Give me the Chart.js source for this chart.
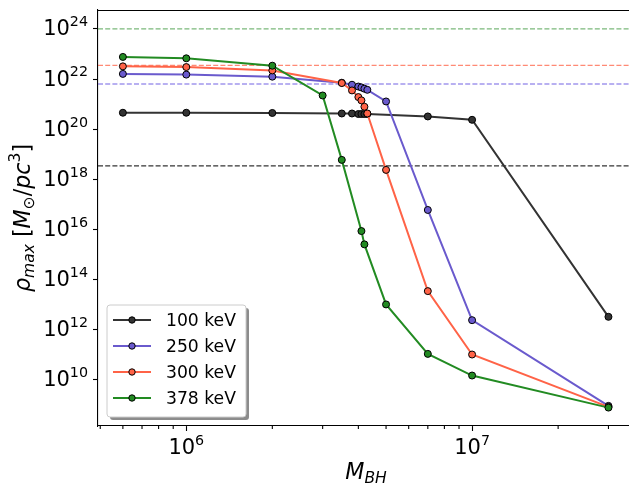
<!DOCTYPE html>
<html>
<head>
<meta charset="utf-8">
<script src="https://cdn.jsdelivr.net/npm/chart.js@4.4.0/dist/chart.umd.min.js"></script>
<style>
  html, body { margin: 0; padding: 0; background: #fff; }
  canvas { display: block; }
</style>
</head>
<body>
<canvas id="rhoChart" width="629" height="483"></canvas>
<script>
// black hole masses used by each run
const massA = [6e5, 1e6, 2e6, 3.5e6, 3.8e6, 4.0e6, 4.1e6, 4.2e6, 4.3e6, 7e6, 1e7, 3e7];
const massB = [6e5, 1e6, 2e6, 3.5e6, 3.8e6, 4.0e6, 4.1e6, 4.2e6, 4.3e6, 5e6, 7e6, 1e7, 3e7];
const massC = [6e5, 1e6, 2e6, 3e6, 3.5e6, 4.1e6, 4.2e6, 5e6, 7e6, 1e7, 3e7];

// max density per run
const rho100 = [4.5e20, 4.5e20, 4.4e20, 4.2e20, 4.2e20, 4.0e20, 4.0e20, 4.0e20, 4.0e20, 3.2e20, 2.35e20, 3.2e12];
const rho250 = [1.6e22, 1.5e22, 1.24e22, 7.1e21, 5.9e21, 5.0e21, 4.6e21, 4.1e21, 3.7e21, 1.27e21, 5.9e16, 2.35e12, 8.9e8];
const rho300 = [3.2e22, 3.0e22, 2.2e22, 6.9e21, 3.5e21, 1.9e21, 1.4e21, 7.8e20, 4.2e20, 2.35e18, 3.4e13, 1.0e11, 8.1e8];
const rho378 = [7.6e22, 6.7e22, 3.4e22, 2.2e21, 5.9e18, 8.5e15, 2.5e15, 1.0e13, 1.06e11, 1.45e10, 7.6e8];

// horizontal limits (dashed), one per run
const rhoLimits = [3.4e18, 6.3e21, 3.5e22, 1e24];

const labels = ['100 keV', '250 keV', '300 keV', '378 keV'];
const colors = ['#333333', '#6a5acd', '#ff6347', '#228b22'];
const limitColors = ['rgba(30,30,30,0.9)', 'rgba(106,90,225,0.95)', 'rgba(255,99,71,0.75)', 'rgba(34,139,34,0.6)'];

const xMajor = [1e6, 1e7];
const xMinor = [5e5, 6e5, 7e5, 8e5, 9e5, 2e6, 3e6, 4e6, 5e6, 6e6, 7e6, 8e6, 9e6, 2e7, 3e7];
const yMajor = [1e10, 1e12, 1e14, 1e16, 1e18, 1e20, 1e22, 1e24];

const X_MIN = 4.91e5, X_MAX = 3.54e7;
const Y_MIN = 1.40e8, Y_MAX = 5.69e24;

const FONT = '"DejaVu Sans", sans-serif';

function pts(xs, ys) {
    return xs.map((x, i) => ({ x: x, y: ys[i] }));
}

function fontOf(r) {
    return (r.it ? 'italic ' : '') + r.s + 'px ' + FONT;
}
function runsWidth(c, runs) {
    let w = 0;
    runs.forEach(r => { c.font = fontOf(r); w += c.measureText(r.t).width; });
    return w;
}
function drawRuns(c, runs, x, y) {
    let cx = x;
    runs.forEach(r => {
        c.font = fontOf(r);
        c.fillText(r.t, cx, y + (r.dy || 0));
        cx += c.measureText(r.t).width;
    });
}
function powRuns(v, size) {
    const e = Math.round(Math.log10(v));
    return [{ t: '10', s: size }, { t: String(e), s: size * 0.68, dy: -size * 0.43 }];
}

const TICK = 21, LEG = 17.2, LAB = 22.2;

const decor = {
    id: 'decor',
    beforeDatasetsDraw(chart) {
        const c = chart.ctx, a = chart.chartArea, ys = chart.scales.y;
        c.save();
        c.lineWidth = 1.1;
        c.setLineDash([5, 2.2]);
        rhoLimits.forEach((v, i) => {
            const py = ys.getPixelForValue(v);
            c.strokeStyle = limitColors[i];
            c.beginPath(); c.moveTo(a.left, py); c.lineTo(a.right, py); c.stroke();
        });
        c.restore();
    },
    afterDraw(chart) {
        const c = chart.ctx, a = chart.chartArea, xs = chart.scales.x, ys = chart.scales.y;
        c.save();
        // top spine
        c.strokeStyle = '#000'; c.lineWidth = 1.1;
        c.beginPath(); c.moveTo(a.left, a.top + 0.5); c.lineTo(a.right, a.top + 0.5); c.stroke();
        // minor ticks on x
        xMinor.forEach(v => {
            const px = xs.getPixelForValue(v);
            c.beginPath(); c.moveTo(px, a.bottom); c.lineTo(px, a.bottom + 3); c.stroke();
        });
        c.fillStyle = '#000';
        c.textBaseline = 'alphabetic'; c.textAlign = 'left';
        // y tick labels
        yMajor.forEach(v => {
            const py = ys.getPixelForValue(v);
            const r = powRuns(v, TICK);
            drawRuns(c, r, a.left - 10 - runsWidth(c, r), py + 6.5);
        });
        // x tick labels
        xMajor.forEach(v => {
            const px = xs.getPixelForValue(v);
            const r = powRuns(v, TICK);
            drawRuns(c, r, px - runsWidth(c, r) / 2, 454);
        });
        // x title
        const xt = [{ t: 'M', s: LAB, it: true }, { t: 'BH', s: LAB * 0.7, it: true, dy: LAB * 0.2 }];
        drawRuns(c, xt, 366 - runsWidth(c, xt) / 2, 479);
        // y title
        const yt = [
            { t: 'ρ', s: LAB, it: true },
            { t: 'max', s: LAB * 0.7, it: true, dy: LAB * 0.2 },
            { t: ' [', s: LAB },
            { t: 'M', s: LAB, it: true },
            { t: '⊙', s: LAB * 0.7, dy: LAB * 0.2 },
            { t: '/', s: LAB },
            { t: 'pc', s: LAB, it: true },
            { t: '3', s: LAB * 0.7, dy: -LAB * 0.45 },
            { t: ']', s: LAB }
        ];
        c.save();
        c.translate(30, (a.top + a.bottom) / 2);
        c.rotate(-Math.PI / 2);
        drawRuns(c, yt, -runsWidth(c, yt) / 2, 0);
        c.restore();
        // legend
        const lx = 107, ly = 305, lw = 139, lh = 112;
        c.fillStyle = 'rgba(0,0,0,0.45)';
        c.beginPath(); c.roundRect(lx + 3, ly + 3, lw, lh, 3); c.fill();
        c.fillStyle = '#fff';
        c.beginPath(); c.roundRect(lx, ly, lw, lh, 3); c.fill();
        c.strokeStyle = '#cccccc'; c.lineWidth = 1;
        c.stroke();
        chart.data.datasets.forEach((ds, i) => {
            const yy = 320 + i * 26;
            c.strokeStyle = ds.borderColor; c.lineWidth = 2;
            c.beginPath(); c.moveTo(113, yy); c.lineTo(151, yy); c.stroke();
            c.fillStyle = ds.pointBackgroundColor;
            c.strokeStyle = '#000'; c.lineWidth = 1;
            c.beginPath(); c.arc(132, yy, 3.2, 0, Math.PI * 2); c.fill(); c.stroke();
            c.fillStyle = '#000';
            c.font = LEG + 'px ' + FONT;
            c.fillText(ds.label, 166, yy + 6);
        });
        c.restore();
    }
};

const series = [pts(massA, rho100), pts(massB, rho250), pts(massB, rho300), pts(massC, rho378)];

const ctx = document.getElementById('rhoChart').getContext('2d');
const myChart = new Chart(ctx, {
    type: 'line',
    data: {
        datasets: series.map((d, i) => ({
            label: labels[i],
            data: d,
            borderColor: colors[i],
            backgroundColor: colors[i],
            pointBackgroundColor: colors[i],
            pointBorderColor: '#000',
            pointBorderWidth: 1,
            pointRadius: 3.5,
            borderWidth: 2,
            tension: 0,
            order: 4 - i
        }))
    },
    options: {
        responsive: false,
        animation: false,
        layout: { autoPadding: false, padding: { left: 93, right: 0, top: 10, bottom: 52 } },
        plugins: { legend: { display: false }, tooltip: { enabled: false } },
        scales: {
            x: {
                type: 'logarithmic',
                min: X_MIN,
                max: X_MAX,
                afterBuildTicks: s => { s.ticks = xMajor.map(v => ({ value: v })); },
                ticks: { display: false },
                grid: { drawOnChartArea: false, drawTicks: true, tickLength: 5, tickColor: '#000', tickWidth: 1.1 },
                border: { display: true, color: '#000', width: 1.1 }
            },
            y: {
                type: 'logarithmic',
                min: Y_MIN,
                max: Y_MAX,
                afterBuildTicks: s => { s.ticks = yMajor.map(v => ({ value: v })); },
                ticks: { display: false },
                grid: { drawOnChartArea: false, drawTicks: true, tickLength: 5, tickColor: '#000', tickWidth: 1.1 },
                border: { display: true, color: '#000', width: 1.1 }
            }
        }
    },
    plugins: [decor]
});
</script>
</body>
</html>
